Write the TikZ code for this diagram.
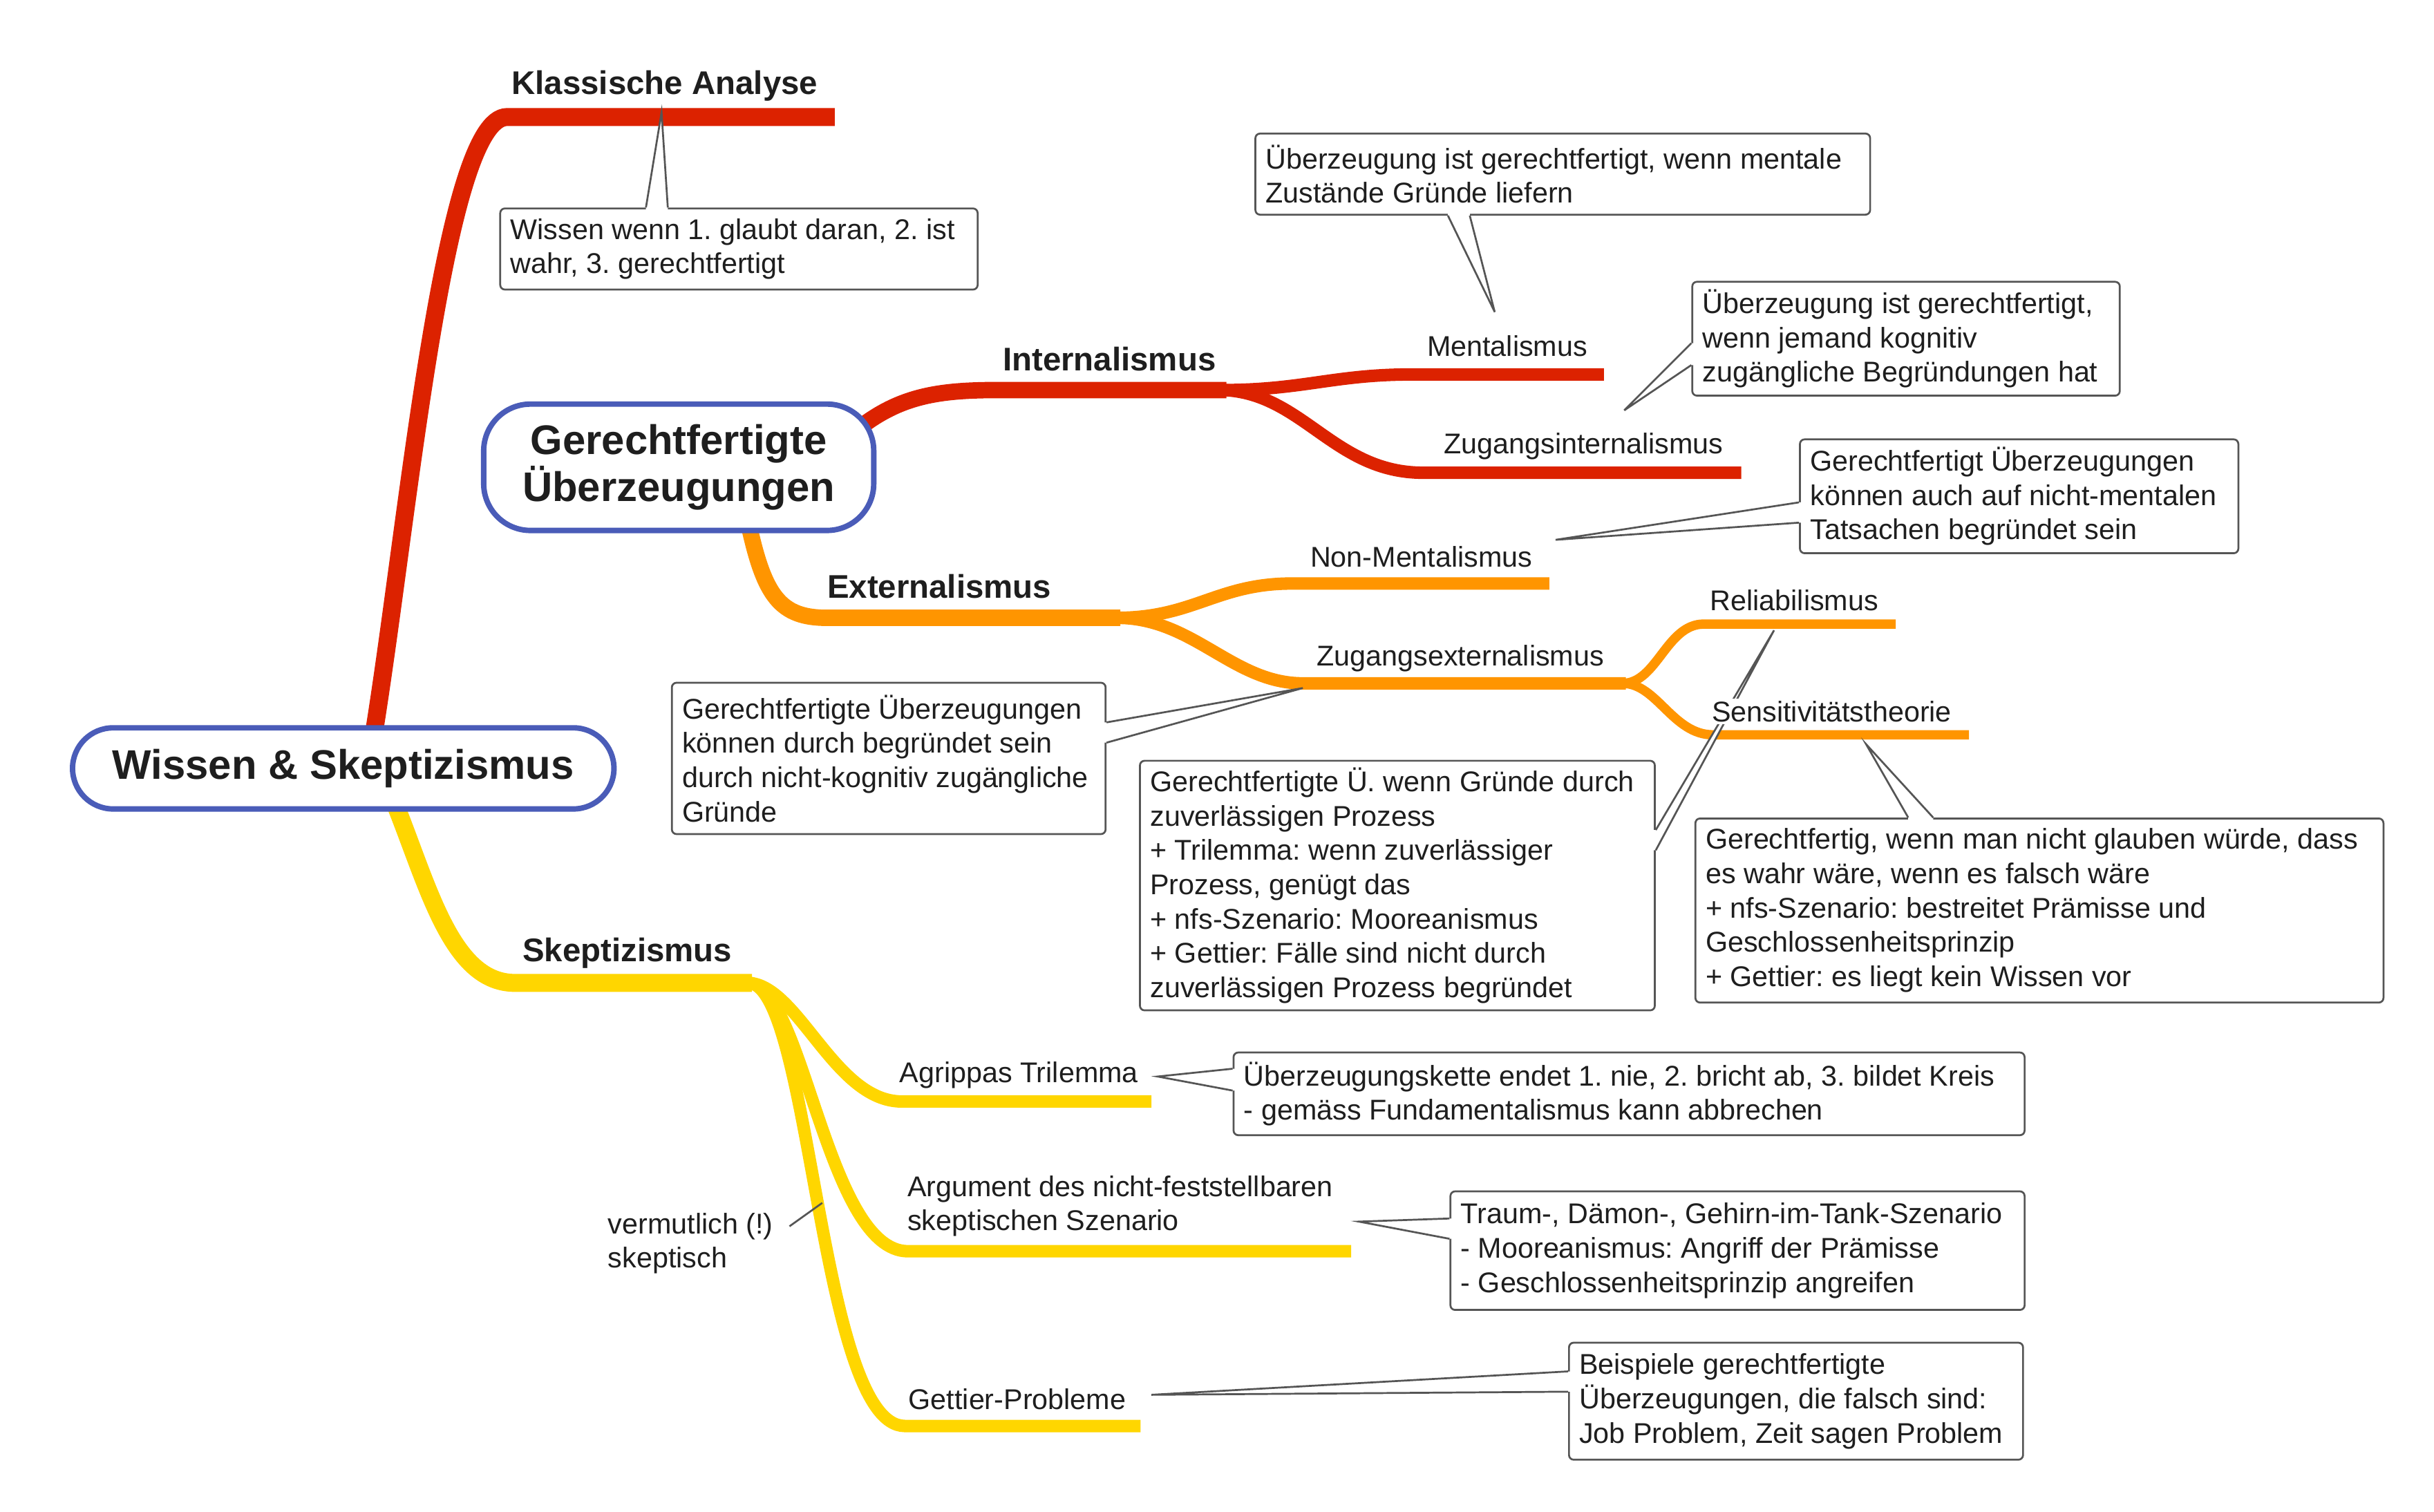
\documentclass[tikz,border=0pt]{standalone}
\usepackage{fontspec}
\setmainfont{Liberation Sans}
\usetikzlibrary{calc}
\pgfdeclarelayer{bg}
\pgfdeclarelayer{mid}
\pgfsetlayers{bg,mid,main}
\definecolor{cred}{HTML}{DC2200}
\definecolor{corange}{HTML}{FF9500}
\definecolor{cyellow}{HTML}{FFD600}
\definecolor{cblue}{HTML}{4A5CB8}
\definecolor{cgray}{HTML}{555555}
\definecolor{ctxt}{HTML}{1E1E1E}
\frenchspacing
% callout tail: base point 1, base point 2, tip, inward offset
\newcommand\ctail[4]{%
  \fill[white] ($(#1)+(#4)$) -- (#1) -- (#3) -- (#2) -- ($(#2)+(#4)$) -- cycle;
  \draw[cline] (#1) -- (#3) -- (#2);%
}
\begin{document}
\begin{tikzpicture}[x=1pt,y=-1pt,
  lbl/.style={font=\fontsize{18.3}{22}\selectfont, text=ctxt, fill=white, inner sep=1.5pt},
  blbl/.style={font=\fontsize{21}{25}\selectfont\bfseries, text=ctxt, inner sep=1pt},
  central/.style={draw=cblue, line width=3.5pt, fill=white, text=ctxt, font=\fontsize{26.5}{30}\selectfont\bfseries, align=center},
  cbox/.style={draw=cgray, line width=1.2pt, fill=white, rounded corners=3pt, anchor=north west, inner sep=0pt},
  ctext/.style={anchor=west, align=left, font=\fontsize{18.3}{22}\selectfont, text=ctxt, inner sep=0pt},
  cline/.style={draw=cgray, line width=1.2pt, line join=miter},
  brR/.style={line width=11.5pt},
  brA/.style={line width=10.5pt},
  brB/.style={line width=8pt},
  brC/.style={line width=6pt}]
\useasboundingbox (0,0) rectangle (1560,969);

% ---------- central topics ----------
\node[central, minimum width=347pt, minimum height=52pt, rounded corners=26pt] (root) at (220,492.5) {Wissen \& Skeptizismus};
\node[central, minimum width=250pt, minimum height=81pt, rounded corners=30pt] (gu) at (435,299.5) {Gerechtfertigte\\Überzeugungen};

% ---------- labels ----------
\node[blbl] (ka) at (426,55) {Klassische Analyse};
\node[blbl] (int) at (711,230) {Internalismus};
\node[blbl] (ext) at (602,376) {Externalismus};
\node[blbl] (skep) at (402,611) {Skeptizismus};
\node[lbl] (ment) at (966,222) {Mentalismus};
\node[lbl] (zint) at (1015,286) {Zugangsinternalismus};
\node[lbl] (nment) at (911,357) {Non-Mentalismus};
\node[lbl] (zext) at (936,422) {Zugangsexternalismus};
\node[lbl] (rel) at (1150,385) {Reliabilismus};
\node[lbl] (sens) at (1174,456) {Sensitivitätstheorie};
\node[lbl] (agr) at (653,689) {Agrippas Trilemma};
\node[lbl, align=left, anchor=west] (arg) at (580,773) {Argument des nicht-feststellbaren\\skeptischen Szenario};
\node[lbl] (get) at (652,897) {Gettier-Probleme};
\node[lbl, align=left, anchor=west] (verm) at (388,797) {vermutlich (!)\\skeptisch};

% ---------- coordinates ----------
\coordinate (kaE) at (535,75);
\coordinate (intS) at ($(gu.east)+(-15,-22)$);
\coordinate (intJ) at (786,250);
\coordinate (mentE) at (1028,240);
\coordinate (zintE) at (1116,303);
\coordinate (extS) at ($(gu.south)+(45,-5)$);
\coordinate (extJ) at (718,396);
\coordinate (nmE) at (993,374);
\coordinate (zeJ) at (1042,438);
\coordinate (relE) at (1215,400);
\coordinate (sensE) at (1262,471);
\coordinate (skJ) at (482,630);
\coordinate (agrE) at (738,706);
\coordinate (argE) at (866,802);
\coordinate (getE) at (731,914);

% ---------- branches ----------
\begin{pgfonlayer}{bg}
\draw[cred, brR] ($(root.north)+(20,3)$) .. controls (262,330) and (285,75) .. (325,75) -- (kaE);
\draw[cred, brA] (intS) .. controls (575,254) and (600,250) .. (640,250) -- (intJ);
\draw[cred, brB] (784,250) .. controls (835,250) and (855,240) .. (905,240) -- (mentE);
\draw[cred, brB] (784,250) .. controls (835,252) and (855,303) .. (912,303) -- (zintE);
\draw[corange, brA] (extS) .. controls (490,382) and (500,396) .. (530,396) -- (extJ);
\draw[corange, brB] (716,396) .. controls (765,396) and (780,374) .. (828,374) -- (nmE);
\draw[corange, brB] (716,396) .. controls (765,396) and (790,438) .. (835,438) -- (zeJ);
\draw[corange, brC] (1040,438) .. controls (1062,438) and (1068,400) .. (1092,400) -- (relE);
\draw[corange, brC] (1040,438) .. controls (1062,438) and (1072,471) .. (1098,471) -- (sensE);
\draw[cyellow, brR] ($(root.south)+(34,-3)$) .. controls (275,570) and (290,630) .. (330,630) -- (skJ);
\draw[cyellow, brB] (480,630) .. controls (512,632) and (535,706) .. (578,706) -- (agrE);
\draw[cyellow, brB] (480,630) .. controls (515,632) and (530,802) .. (582,802) -- (argE);
\draw[cyellow, brB] (480,630) .. controls (520,632) and (525,914) .. (580,914) -- (getE);
\end{pgfonlayer}

% ---------- callouts ----------
\begin{pgfonlayer}{mid}
% Klassische Analyse
\node[cbox, minimum width=306pt, minimum height=52pt] (kc) at (320,133) {};
\node[ctext] (kct) at ($(kc.west)+(7,0)$) {Wissen wenn 1. glaubt daran, 2. ist\\wahr, 3. gerechtfertigt};
\coordinate (kc1) at ($(kc.north west)+(94,0)$);
\coordinate (kc2) at ($(kc.north west)+(108,0)$);
\coordinate (kaTip) at (424,72);
\ctail{kc1}{kc2}{kaTip}{0,2}
% Mentalismus
\node[cbox, minimum width=394pt, minimum height=52pt] (mc) at (804,85) {};
\node[ctext] (mct) at ($(mc.west)+(7,0)$) {Überzeugung ist gerechtfertigt, wenn mentale\\Zustände Gründe liefern};
\coordinate (mc1) at ($(mc.south west)+(124,0)$);
\coordinate (mc2) at ($(mc.south west)+(138,0)$);
\coordinate (mTip) at (958,200);
\ctail{mc1}{mc2}{mTip}{0,-2}
% Zugangsinternalismus
\node[cbox, minimum width=274pt, minimum height=73pt] (zc) at (1084,180) {};
\node[ctext] (zct) at ($(zc.west)+(7,0)$) {Überzeugung ist gerechtfertigt,\\wenn jemand kognitiv\\zugängliche Begründungen hat};
\coordinate (zc1) at ($(zc.north west)+(0,40)$);
\coordinate (zc2) at ($(zc.north west)+(0,54)$);
\coordinate (ziTip) at (1041,263);
\ctail{zc1}{zc2}{ziTip}{2,0}
% Non-Mentalismus
\node[cbox, minimum width=281pt, minimum height=73pt] (nc) at (1153,281) {};
\node[ctext] (nct) at ($(nc.west)+(7,0)$) {Gerechtfertigt Überzeugungen\\können auch auf nicht-mentalen\\Tatsachen begründet sein};
\coordinate (nc1) at ($(nc.north west)+(0,41)$);
\coordinate (nc2) at ($(nc.north west)+(0,54)$);
\coordinate (nmTip) at (997,346);
\ctail{nc1}{nc2}{nmTip}{2,0}
% Zugangsexternalismus
\node[cbox, minimum width=278pt, minimum height=97pt] (zec) at (430,437) {};
\node[ctext] (zect) at ($(zec.west)+(7,0)$) {Gerechtfertigte Überzeugungen\\können durch begründet sein\\durch nicht-kognitiv zugängliche\\Gründe};
\coordinate (zec1) at ($(zec.north east)+(0,26)$);
\coordinate (zec2) at ($(zec.north east)+(0,39)$);
\coordinate (zeTip) at (835,441);
\ctail{zec1}{zec2}{zeTip}{-2,0}
% Reliabilismus
\node[cbox, minimum width=330pt, minimum height=160pt] (rc) at (730,487) {};
\node[ctext] (rct) at ($(rc.west)+(7,0)$) {Gerechtfertigte Ü. wenn Gründe durch\\zuverlässigen Prozess\\+ Trilemma: wenn zuverlässiger\\Prozess, genügt das\\+ nfs-Szenario: Mooreanismus\\+ Gettier: Fälle sind nicht durch\\zuverlässigen Prozess begründet};
\coordinate (rc1) at ($(rc.north east)+(0,45)$);
\coordinate (rc2) at ($(rc.north east)+(0,58)$);
\coordinate (relTip) at (1137,404);
\ctail{rc1}{rc2}{relTip}{-2,0}
% Sensitivitaetstheorie
\node[cbox, minimum width=441pt, minimum height=118pt] (sc) at (1086,524) {};
\node[ctext] (sct) at ($(sc.west)+(7,0)$) {Gerechtfertig, wenn man nicht glauben würde, dass\\es wahr wäre, wenn es falsch wäre\\+ nfs-Szenario: bestreitet Prämisse und\\Geschlossenheitsprinzip\\+ Gettier: es liegt kein Wissen vor};
\coordinate (sc1) at ($(sc.north west)+(137,0)$);
\coordinate (sc2) at ($(sc.north west)+(153,0)$);
\coordinate (sTip) at (1196,477);
\ctail{sc1}{sc2}{sTip}{0,2}
% Agrippas Trilemma
\node[cbox, minimum width=507pt, minimum height=53pt] (ac) at (790,674) {};
\node[ctext] (act) at ($(ac.west)+(7,0)$) {Überzeugungskette endet 1. nie, 2. bricht ab, 3. bildet Kreis\\- gemäss Fundamentalismus kann abbrechen};
\coordinate (ac1) at ($(ac.north west)+(0,11)$);
\coordinate (ac2) at ($(ac.north west)+(0,25)$);
\coordinate (agTip) at (742,690);
\ctail{ac1}{ac2}{agTip}{2,0}
% Argument
\node[cbox, minimum width=368pt, minimum height=76pt] (arc) at (929,763) {};
\node[ctext] (arct) at ($(arc.west)+(7,0)$) {Traum-, Dämon-, Gehirn-im-Tank-Szenario\\- Mooreanismus: Angriff der Prämisse\\- Geschlossenheitsprinzip angreifen};
\coordinate (arc1) at ($(arc.north west)+(0,18)$);
\coordinate (arc2) at ($(arc.north west)+(0,31)$);
\coordinate (arTip) at (871,783);
\ctail{arc1}{arc2}{arTip}{2,0}
% Gettier
\node[cbox, minimum width=291pt, minimum height=75pt] (gc) at (1005,860) {};
\node[ctext] (gct) at ($(gc.west)+(7,0)$) {Beispiele gerechtfertigte\\Überzeugungen, die falsch sind:\\Job Problem, Zeit sagen Problem};
\coordinate (gc1) at ($(gc.north west)+(0,19)$);
\coordinate (gc2) at ($(gc.north west)+(0,32)$);
\coordinate (gTip) at (738,894);
\ctail{gc1}{gc2}{gTip}{2,0}
% vermutlich
\coordinate (vmS) at (506,786);
\coordinate (vmTip) at (527,771);
\draw[cline] (vmS) -- (vmTip);
\end{pgfonlayer}
\end{tikzpicture}
\end{document}
